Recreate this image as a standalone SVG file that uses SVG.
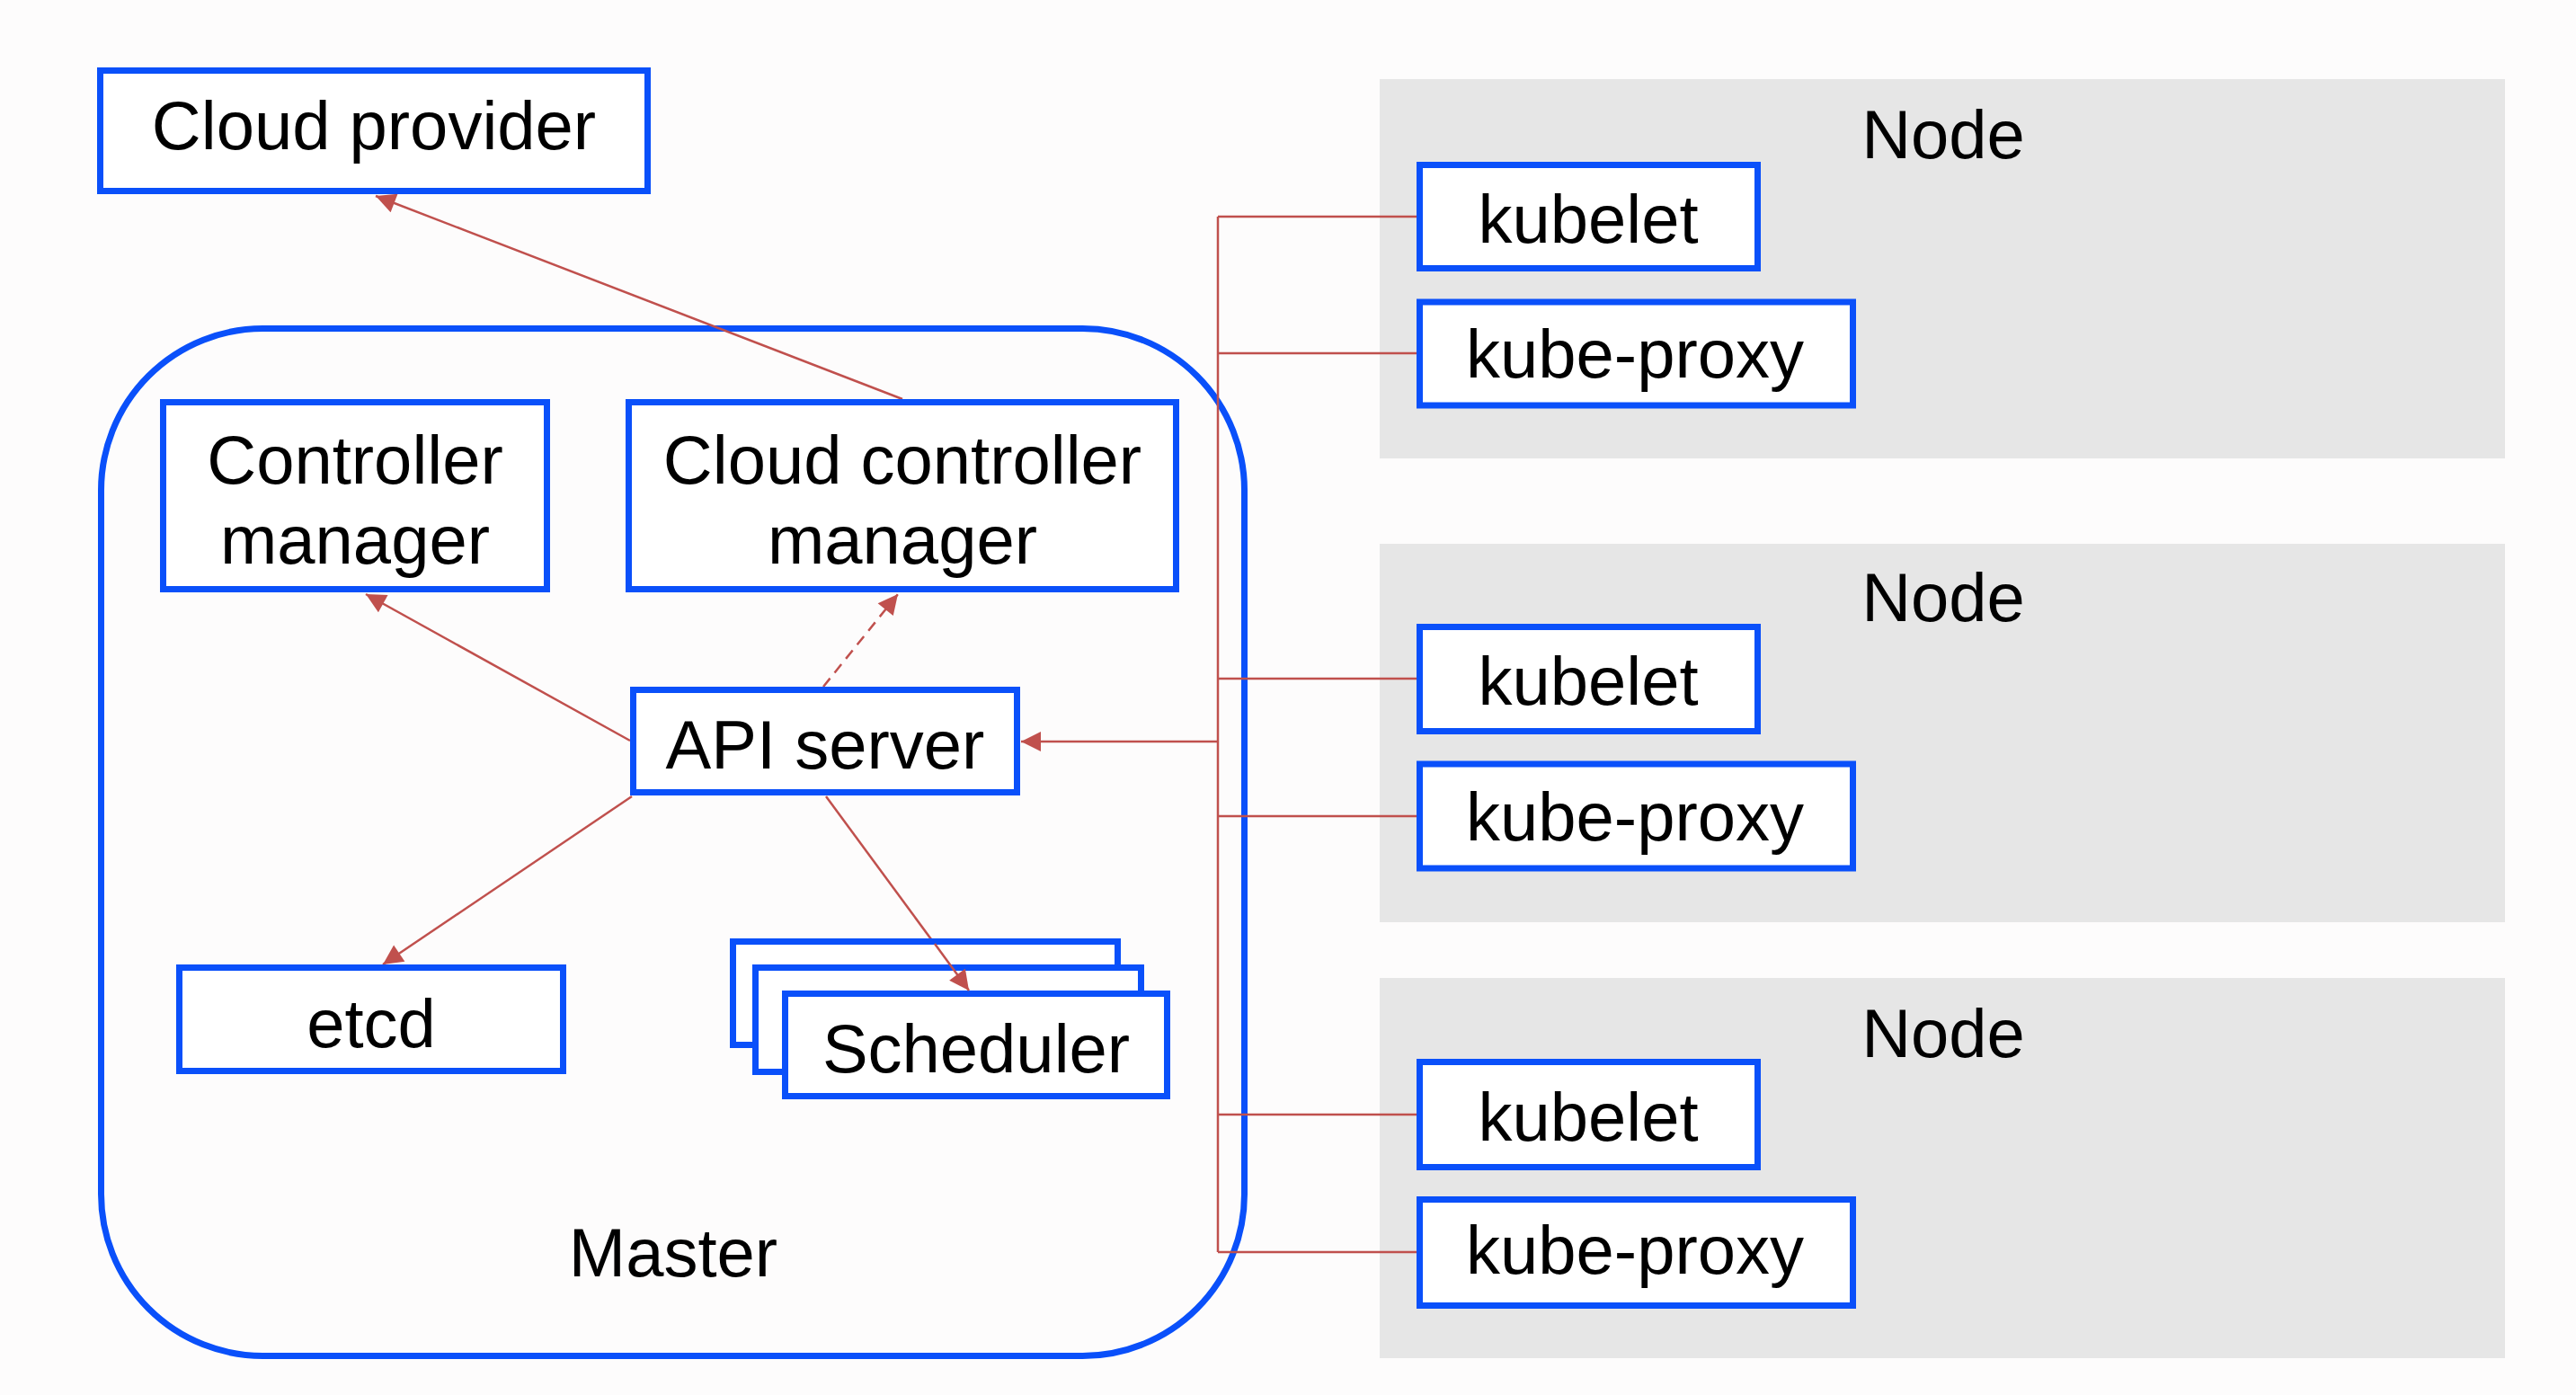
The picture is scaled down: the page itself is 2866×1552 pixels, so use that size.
<svg xmlns="http://www.w3.org/2000/svg" width="2866" height="1552" viewBox="0 0 2866 1552">
<style>
.box{fill:#ffffff;stroke:#0a50fa;stroke-width:7}
.master{fill:none;stroke:#0a50fa;stroke-width:7}
.node{fill:#e6e6e6;stroke:none}
.t{font-family:"Liberation Sans",Arial,sans-serif;font-size:76px;fill:#000;text-anchor:middle}
.c{fill:none;stroke:#c0504d;stroke-width:2.5}
.bus{fill:none;stroke:#c0504d;stroke-width:2.5}
</style>
<defs>
<marker id="ah" viewBox="0 0 10 10" refX="10" refY="5" markerWidth="26" markerHeight="22" markerUnits="userSpaceOnUse" orient="auto">
<path d="M0,0 L10,5 L0,10 z" fill="#c0504d"/>
</marker>
</defs>
<rect x="0" y="0" width="2866" height="1552" fill="#fdfcfc"/>

<g id="node1">
<rect class="node" x="1535" y="88" width="1252" height="422"/>
<text class="t" x="2162" y="176">Node</text>
</g>
<g id="node2">
<rect class="node" x="1535" y="605" width="1252" height="421"/>
<text class="t" x="2162" y="691">Node</text>
</g>
<g id="node3">
<rect class="node" x="1535" y="1088" width="1252" height="423"/>
<text class="t" x="2162" y="1176">Node</text>
</g>

<g id="master">
<rect class="master" x="112.5" y="365.5" width="1272" height="1143" rx="180" ry="180"/>
<text class="t" x="749" y="1420">Master</text>
</g>

<g id="connectors">
<line class="c" x1="1004" y1="444" x2="418" y2="218" marker-end="url(#ah)"/>
<line class="c" x1="701" y1="824" x2="407" y2="661" marker-end="url(#ah)"/>
<line class="c" x1="916" y1="764" x2="999" y2="661" stroke-dasharray="12,8" marker-end="url(#ah)"/>
<line class="c" x1="703" y1="886" x2="426" y2="1073" marker-end="url(#ah)"/>
<line class="c" x1="919" y1="886" x2="1078" y2="1102" marker-end="url(#ah)"/>
<path class="bus" d="M1355,241 V1393 M1355,241 H1576 M1355,393 H1576 M1355,755 H1576 M1355,908 H1576 M1355,1240 H1576 M1355,1393 H1576"/>
<line class="c" x1="1355" y1="825" x2="1136" y2="825" stroke-width="3.5" marker-end="url(#ah)"/>
</g>

<g id="cloud-provider">
<rect class="box" x="111.5" y="78.5" width="609" height="134"/>
<text class="t" x="416" y="166">Cloud provider</text>
</g>
<g id="controller-manager">
<rect class="box" x="181.5" y="447.5" width="427" height="208"/>
<text class="t" x="395" y="538">Controller</text>
<text class="t" x="395" y="627">manager</text>
</g>
<g id="cloud-controller-manager">
<rect class="box" x="699.5" y="447.5" width="609" height="208"/>
<text class="t" x="1004" y="538">Cloud controller</text>
<text class="t" x="1004" y="627">manager</text>
</g>
<g id="api-server">
<rect class="box" x="704.5" y="767.5" width="427" height="114"/>
<text class="t" x="918" y="855">API server</text>
</g>
<g id="etcd">
<rect class="box" x="199.5" y="1076.5" width="427" height="115"/>
<text class="t" x="413" y="1165">etcd</text>
</g>
<g id="scheduler">
<rect class="box" x="815.5" y="1047.5" width="428" height="115"/>
<rect class="box" x="840.5" y="1076.5" width="429" height="116"/>
<rect class="box" x="873.5" y="1105.5" width="425" height="114"/>
<text class="t" x="1086" y="1193">Scheduler</text>
</g>
<line class="c" x1="1040" y1="1050" x2="1078" y2="1102" marker-end="url(#ah)"/>

<g id="kubelet1">
<rect class="box" x="1579.5" y="183.5" width="376" height="115"/>
<text class="t" x="1767" y="270">kubelet</text>
</g>
<g id="kube-proxy1">
<rect class="box" x="1579.5" y="336" width="482" height="115"/>
<text class="t" x="1819" y="420">kube-proxy</text>
</g>
<g id="kubelet2">
<rect class="box" x="1579.5" y="697.5" width="376" height="116"/>
<text class="t" x="1767" y="784">kubelet</text>
</g>
<g id="kube-proxy2">
<rect class="box" x="1579.5" y="850" width="482" height="116"/>
<text class="t" x="1819" y="935">kube-proxy</text>
</g>
<g id="kubelet3">
<rect class="box" x="1579.5" y="1181.5" width="376" height="117"/>
<text class="t" x="1767" y="1269">kubelet</text>
</g>
<g id="kube-proxy3">
<rect class="box" x="1579.5" y="1334.5" width="482" height="118"/>
<text class="t" x="1819" y="1417">kube-proxy</text>
</g>
</svg>
